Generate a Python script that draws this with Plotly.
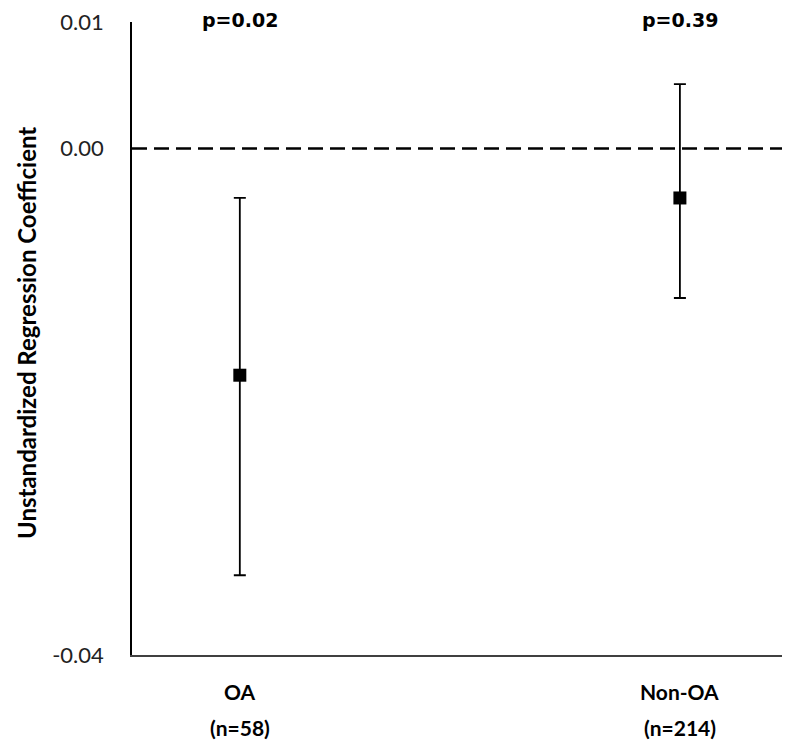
import plotly.graph_objects as go

groups = ["OA", "Non-OA"]
group_n = ["(n=58)", "(n=214)"]
coef = [-0.0179, -0.0039]
ci_upper = [-0.0039, 0.0051]
ci_lower = [-0.0337, -0.0118]
p_values = ["p=0.02", "p=0.39"]
y_ticks = [-0.04, 0.00, 0.01]
y_tick_labels = ["-0.04", "0.00", "0.01"]
y_title = "Unstandardized Regression Coefficient"

xpos = list(range(len(groups)))
err_plus = [u - c for u, c in zip(ci_upper, coef)]
err_minus = [c - l for c, l in zip(coef, ci_lower)]

fig = go.Figure()
fig.add_trace(go.Scatter(
    x=xpos, y=coef, mode="markers",
    marker=dict(symbol="square", size=13, color="black"),
    error_y=dict(type="data", symmetric=False, array=err_plus, arrayminus=err_minus,
                 color="black", thickness=1.8, width=6),
    showlegend=False, hoverinfo="skip",
))

fig.add_shape(type="line", xref="paper", yref="y", x0=0, x1=1, y0=0, y1=0,
              line=dict(color="black", width=2.5, dash="15px,7px"), layer="below")

for i, (g, n, p) in enumerate(zip(groups, group_n, p_values)):
    fig.add_annotation(x=xpos[i], y=1, xref="x", yref="paper", text="<b>%s</b>" % p,
                       showarrow=False, yanchor="middle", yshift=2,
                       font=dict(family="DejaVu Sans", size=19, color="black"))
    fig.add_annotation(x=xpos[i], y=0, xref="x", yref="paper", text="<b>%s</b>" % g,
                       showarrow=False, yanchor="middle", yshift=-36,
                       font=dict(family="Lato", size=21, color="black"))
    fig.add_annotation(x=xpos[i], y=0, xref="x", yref="paper", text="<b>%s</b>" % n,
                       showarrow=False, yanchor="middle", yshift=-72,
                       font=dict(family="Lato", size=21, color="black"))

fig.add_annotation(x=-0.1615, y=0.5087, xref="paper", yref="paper",
                   text="<b>%s</b>" % y_title, textangle=-90, showarrow=False,
                   xanchor="center", yanchor="middle",
                   font=dict(family="Lato", size=24, color="black"))

fig.update_layout(
    width=800, height=750,
    margin=dict(l=124, r=26, t=14, b=103),
    paper_bgcolor="white", plot_bgcolor="white",
    xaxis=dict(range=[-0.245, 1.232], showticklabels=False, showgrid=False,
               zeroline=False, showline=True, linecolor="#404040", linewidth=2,
               ticks="", automargin=False),
    yaxis=dict(range=[-0.04, 0.01], tickvals=y_ticks, ticktext=y_tick_labels,
               showgrid=False, zeroline=False, showline=True, linecolor="black",
               linewidth=1.5, ticks="", ticklabelstandoff=22, automargin=False,
               ticklabeloverflow="allow",
               tickfont=dict(family="Lato", size=22, color="#222222")),
)

fig.write_html("out.html")
